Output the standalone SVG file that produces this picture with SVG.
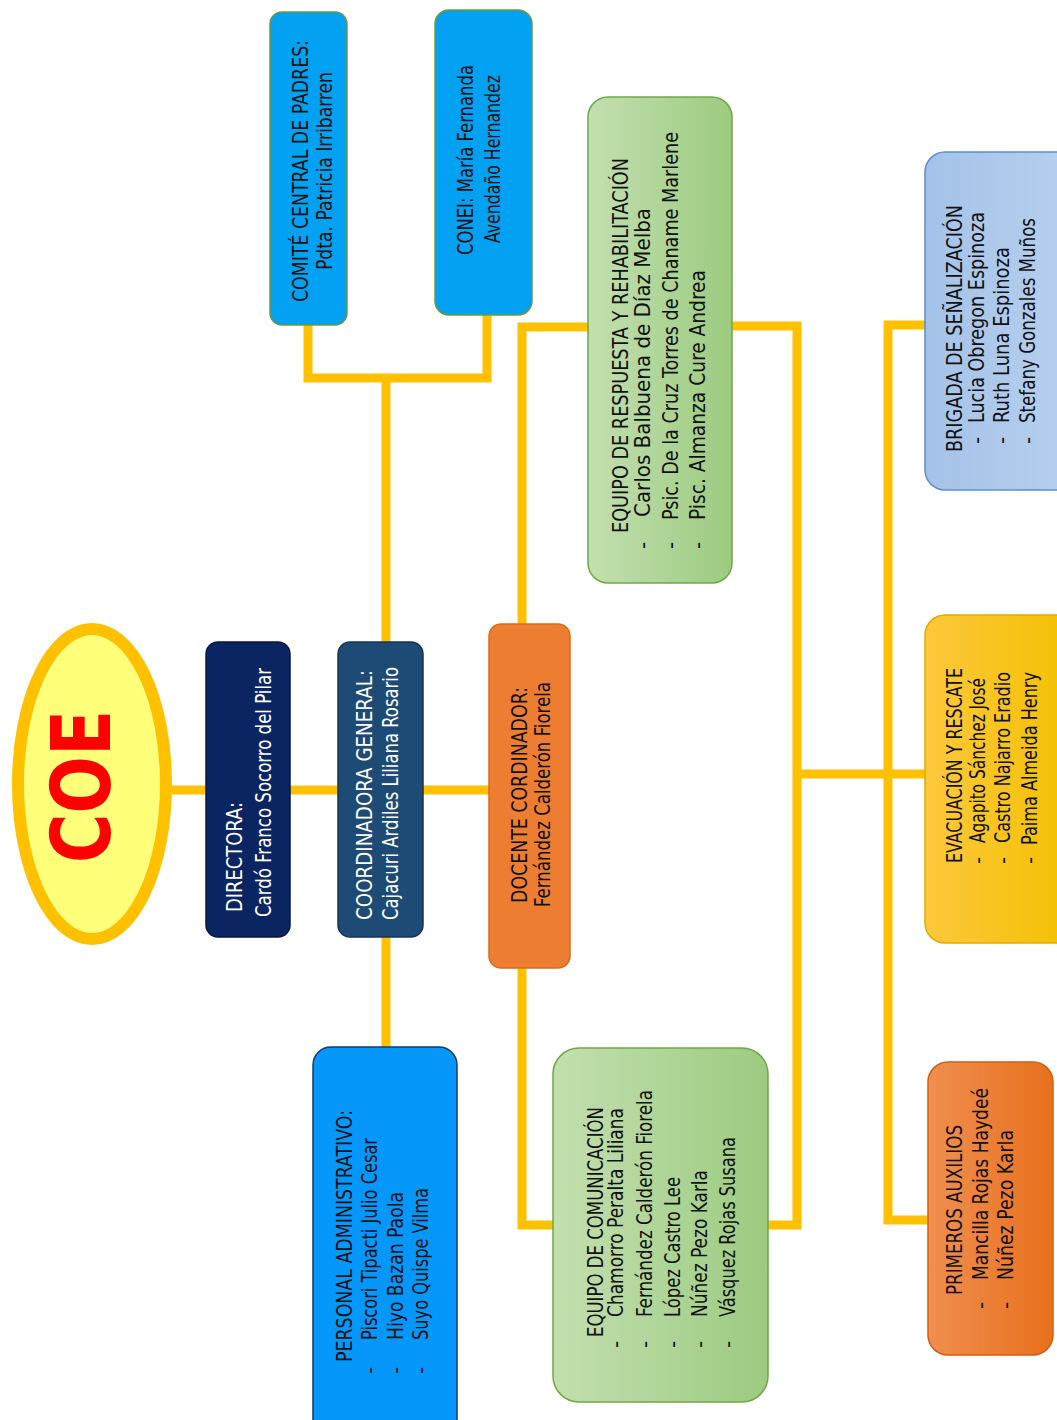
<svg xmlns="http://www.w3.org/2000/svg" width="1057" height="1420" viewBox="0 0 1057 1420">
  <defs>
    <linearGradient id="gGreen" x1="0" y1="0" x2="1" y2="0">
      <stop offset="0" stop-color="#c3dfb0"/>
      <stop offset="1" stop-color="#9ccb80"/>
    </linearGradient>
    <linearGradient id="gBlue" x1="0" y1="0" x2="1" y2="0">
      <stop offset="0" stop-color="#a4c2e8"/>
      <stop offset="1" stop-color="#b8d0ee"/>
    </linearGradient>
    <linearGradient id="gGold" x1="0" y1="0" x2="1" y2="0">
      <stop offset="0" stop-color="#fcc83c"/>
      <stop offset="1" stop-color="#f3c000"/>
    </linearGradient>
    <linearGradient id="gOrange" x1="0" y1="0" x2="1" y2="0">
      <stop offset="0" stop-color="#f08f50"/>
      <stop offset="1" stop-color="#e8701c"/>
    </linearGradient>
    <style>
      .wire { fill: none; stroke: #ffc000; stroke-width: 9; stroke-linejoin: miter; }
      .t { font-family: "Liberation Sans Narrow", "DejaVu Sans Condensed", "Liberation Sans", sans-serif; font-size: 22px; fill: #111; }
      .w { fill: #ffffff; }
      .navy { fill: #0b2462; stroke: #061640; stroke-width: 1.5; }
      .steel { fill: #1d4b75; stroke: #143556; stroke-width: 1.5; }
      .orange { fill: #ed7d31; stroke: #d86a20; stroke-width: 1.5; }
      .sky { fill: #03a1f2; stroke: #6a9a3a; stroke-width: 1.5; }
      .skyD { fill: #0697fb; stroke: #1a3a6a; stroke-width: 1.5; }
      .green { fill: url(#gGreen); stroke: #6fa844; stroke-width: 1.5; }
      .lblue { fill: url(#gBlue); stroke: #5b8fd0; stroke-width: 1.5; }
      .gold { fill: url(#gGold); stroke: #e3ab00; stroke-width: 1.5; }
      .org2 { fill: url(#gOrange); stroke: #cf5f14; stroke-width: 1.5; }
    </style>
  </defs>

  <!-- connectors -->
  <g id="connectors">
    <path class="wire" d="M172 790 H206 M290 790 H338 M423 790 H489"/>
    <path class="wire" d="M308 325 V378 H487 V315"/>
    <path class="wire" d="M386 378 V642"/>
    <path class="wire" d="M386 937 V1047"/>
    <path class="wire" d="M522 624 V327 H588"/>
    <path class="wire" d="M522 968 V1225 H553"/>
    <path class="wire" d="M732 326 H797 V1225 H768"/>
    <path class="wire" d="M797 774 H925"/>
    <path class="wire" d="M925 325 H888 V1220 H928"/>
  </g>

  <!-- root -->
  <g id="coe">
    <ellipse cx="92" cy="784" rx="74" ry="155" fill="#ffff7a" stroke="#ffc000" stroke-width="12"/>
    <text transform="translate(110,863) rotate(-90)" font-family="'DejaVu Sans', sans-serif" font-weight="bold" font-size="82" fill="#ff0000" textLength="153" lengthAdjust="spacingAndGlyphs">COE</text>
  </g>

  <g id="directora">
    <rect class="navy" x="206" y="642" width="84" height="295" rx="12"/>
    <text class="t w" transform="translate(242,912) rotate(-90)" textLength="110" lengthAdjust="spacingAndGlyphs">DIRECTORA:</text>
    <text class="t w" transform="translate(271,917) rotate(-90)" textLength="249" lengthAdjust="spacingAndGlyphs">Cardó Franco Socorro del Pilar</text>
  </g>

  <g id="coordinadora">
    <rect class="steel" x="338" y="642" width="85" height="295" rx="12"/>
    <text class="t w" transform="translate(372,920) rotate(-90)" textLength="250" lengthAdjust="spacingAndGlyphs">COORDINADORA GENERAL:</text>
    <text class="t w" transform="translate(398,920) rotate(-90)" textLength="253" lengthAdjust="spacingAndGlyphs">Cajacuri Ardiles Liliana Rosario</text>
  </g>

  <g id="docente">
    <rect class="orange" x="489" y="624" width="81" height="344" rx="12"/>
    <text class="t" transform="translate(527,903) rotate(-90)" textLength="216" lengthAdjust="spacingAndGlyphs">DOCENTE CORDINADOR:</text>
    <text class="t" transform="translate(550,907) rotate(-90)" textLength="225" lengthAdjust="spacingAndGlyphs">Fernández Calderón Fiorela</text>
  </g>

  <g id="comite">
    <rect class="sky" x="270" y="12" width="77" height="313" rx="12"/>
    <text class="t" transform="translate(308,302) rotate(-90)" textLength="262" lengthAdjust="spacingAndGlyphs">COMITÉ CENTRAL DE PADRES:</text>
    <text class="t" transform="translate(332,270) rotate(-90)" textLength="198" lengthAdjust="spacingAndGlyphs">Pdta. Patricia Irribarren</text>
  </g>

  <g id="conei">
    <rect class="sky" x="435" y="10" width="97" height="305" rx="14"/>
    <text class="t" transform="translate(473,255) rotate(-90)" textLength="190" lengthAdjust="spacingAndGlyphs">CONEI: María Fernanda</text>
    <text class="t" transform="translate(500,243) rotate(-90)" textLength="168" lengthAdjust="spacingAndGlyphs">Avendaño Hernandez</text>
  </g>

  <g id="personal-administrativo">
    <rect class="skyD" x="313" y="1047" width="144" height="400" rx="18"/>
    <text class="t" transform="translate(352,1362) rotate(-90)" textLength="252" lengthAdjust="spacingAndGlyphs">PERSONAL ADMINISTRATIVO:</text>
    <text class="t" transform="translate(377,1374) rotate(-90)">-</text>
    <text class="t" transform="translate(377,1340) rotate(-90)" textLength="202" lengthAdjust="spacingAndGlyphs">Piscori Tipacti Julio Cesar</text>
    <text class="t" transform="translate(403,1374) rotate(-90)">-</text>
    <text class="t" transform="translate(403,1340) rotate(-90)" textLength="148" lengthAdjust="spacingAndGlyphs">Hiyo Bazan Paola</text>
    <text class="t" transform="translate(428,1374) rotate(-90)">-</text>
    <text class="t" transform="translate(428,1340) rotate(-90)" textLength="152" lengthAdjust="spacingAndGlyphs">Suyo Quispe Vilma</text>
  </g>

  <g id="equipo-respuesta">
    <rect class="green" x="588" y="97" width="144" height="486" rx="20"/>
    <text class="t" transform="translate(628,533) rotate(-90)" textLength="375" lengthAdjust="spacingAndGlyphs">EQUIPO DE RESPUESTA Y REHABILITACIÓN</text>
    <text class="t" transform="translate(650,549) rotate(-90)">-</text>
    <text class="t" transform="translate(650,517) rotate(-90)" textLength="309" lengthAdjust="spacingAndGlyphs">Carlos Balbuena de Díaz Melba</text>
    <text class="t" transform="translate(678,549) rotate(-90)">-</text>
    <text class="t" transform="translate(678,520) rotate(-90)" textLength="388" lengthAdjust="spacingAndGlyphs">Psic. De la Cruz Torres de Chaname Marlene</text>
    <text class="t" transform="translate(705,549) rotate(-90)">-</text>
    <text class="t" transform="translate(705,520) rotate(-90)" textLength="250" lengthAdjust="spacingAndGlyphs">Pisc. Almanza Cure Andrea</text>
  </g>

  <g id="equipo-comunicacion">
    <rect class="green" x="553" y="1048" width="215" height="354" rx="26"/>
    <text class="t" transform="translate(603,1337) rotate(-90)" textLength="230" lengthAdjust="spacingAndGlyphs">EQUIPO DE COMUNICACIÓN</text>
    <text class="t" transform="translate(623,1348) rotate(-90)">-</text>
    <text class="t" transform="translate(623,1317) rotate(-90)" textLength="209" lengthAdjust="spacingAndGlyphs">Chamorro Peralta Liliana</text>
    <text class="t" transform="translate(652,1348) rotate(-90)">-</text>
    <text class="t" transform="translate(652,1317) rotate(-90)" textLength="227" lengthAdjust="spacingAndGlyphs">Fernández Calderón Fiorela</text>
    <text class="t" transform="translate(680,1348) rotate(-90)">-</text>
    <text class="t" transform="translate(680,1317) rotate(-90)" textLength="140" lengthAdjust="spacingAndGlyphs">López Castro Lee</text>
    <text class="t" transform="translate(707,1348) rotate(-90)">-</text>
    <text class="t" transform="translate(707,1317) rotate(-90)" textLength="147" lengthAdjust="spacingAndGlyphs">Núñez Pezo Karla</text>
    <text class="t" transform="translate(735,1348) rotate(-90)">-</text>
    <text class="t" transform="translate(735,1317) rotate(-90)" textLength="180" lengthAdjust="spacingAndGlyphs">Vásquez Rojas Susana</text>
  </g>

  <g id="brigada-senalizacion">
    <rect class="lblue" x="925" y="152" width="150" height="338" rx="20"/>
    <text class="t" transform="translate(962,452) rotate(-90)" textLength="247" lengthAdjust="spacingAndGlyphs">BRIGADA DE SEÑALIZACIÓN</text>
    <text class="t" transform="translate(984,444) rotate(-90)">-</text>
    <text class="t" transform="translate(984,423) rotate(-90)" textLength="211" lengthAdjust="spacingAndGlyphs">Lucia Obregon Espinoza</text>
    <text class="t" transform="translate(1009,444) rotate(-90)">-</text>
    <text class="t" transform="translate(1009,423) rotate(-90)" textLength="176" lengthAdjust="spacingAndGlyphs">Ruth Luna Espinoza</text>
    <text class="t" transform="translate(1035,444) rotate(-90)">-</text>
    <text class="t" transform="translate(1035,423) rotate(-90)" textLength="205" lengthAdjust="spacingAndGlyphs">Stefany Gonzales Muños</text>
  </g>

  <g id="evacuacion-rescate">
    <rect class="gold" x="925" y="615" width="150" height="328" rx="20"/>
    <text class="t" transform="translate(962,863) rotate(-90)" textLength="195" lengthAdjust="spacingAndGlyphs">EVACUACIÓN Y RESCATE</text>
    <text class="t" transform="translate(985,864) rotate(-90)">-</text>
    <text class="t" transform="translate(985,843) rotate(-90)" textLength="165" lengthAdjust="spacingAndGlyphs">Agapito Sánchez José</text>
    <text class="t" transform="translate(1010,864) rotate(-90)">-</text>
    <text class="t" transform="translate(1010,843) rotate(-90)" textLength="171" lengthAdjust="spacingAndGlyphs">Castro Najarro Eradio</text>
    <text class="t" transform="translate(1037,864) rotate(-90)">-</text>
    <text class="t" transform="translate(1037,845) rotate(-90)" textLength="173" lengthAdjust="spacingAndGlyphs">Paima Almeida Henry</text>
  </g>

  <g id="primeros-auxilios">
    <rect class="org2" x="928" y="1062" width="125" height="293" rx="20"/>
    <text class="t" transform="translate(962,1295) rotate(-90)" textLength="170" lengthAdjust="spacingAndGlyphs">PRIMEROS AUXILIOS</text>
    <text class="t" transform="translate(988,1309) rotate(-90)">-</text>
    <text class="t" transform="translate(988,1280) rotate(-90)" textLength="192" lengthAdjust="spacingAndGlyphs">Mancilla Rojas Haydeé</text>
    <text class="t" transform="translate(1013,1309) rotate(-90)">-</text>
    <text class="t" transform="translate(1013,1280) rotate(-90)" textLength="150" lengthAdjust="spacingAndGlyphs">Núñez Pezo Karla</text>
  </g>
</svg>
